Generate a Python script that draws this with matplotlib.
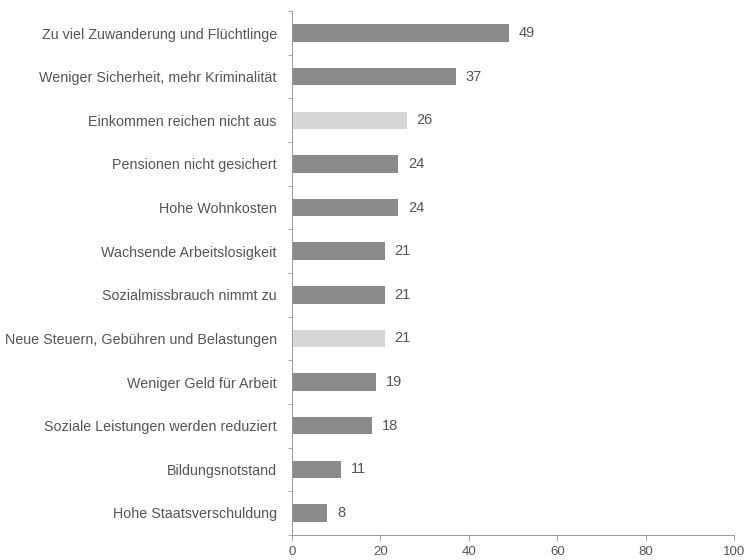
"""Horizontal bar chart: Sorgen der Bevölkerung (in Prozent)."""

import matplotlib
matplotlib.use("Agg")
import matplotlib.pyplot as plt
from matplotlib import font_manager
import numpy as np

# Categories top to bottom and their values.
categories = [
    "Zu viel Zuwanderung und Flüchtlinge",
    "Weniger Sicherheit, mehr Kriminalität",
    "Einkommen reichen nicht aus",
    "Pensionen nicht gesichert",
    "Hohe Wohnkosten",
    "Wachsende Arbeitslosigkeit",
    "Sozialmissbrauch nimmt zu",
    "Neue Steuern, Gebühren und Belastungen",
    "Weniger Geld für Arbeit",
    "Soziale Leistungen werden reduziert",
    "Bildungsnotstand",
    "Hohe Staatsverschuldung",
]
values = [49, 37, 26, 24, 24, 21, 21, 21, 19, 18, 11, 8]
# Two bars came out lighter in the printed source.
light_bars = ["Einkommen reichen nicht aus",
              "Neue Steuern, Gebühren und Belastungen"]
x_ticks = [0, 20, 40, 60, 80, 100]

names = {f.name for f in font_manager.fontManager.ttflist}
family = "Liberation Sans Narrow" if "Liberation Sans Narrow" in names \
    else "Liberation Sans"
plt.rcParams["font.family"] = [family, "DejaVu Sans"]

TEXT = "#555555"
AXIS = "#999999"

fig = plt.figure(figsize=(7.49, 5.60), dpi=100)
ax = fig.add_axes([0.390, 0.045, 0.590, 0.935])

y = np.arange(len(categories))
colors = ["#d6d6d6" if c in light_bars else "#8a8a8a" for c in categories]
ax.barh(y, values, height=0.4, color=colors)

for yi, v in zip(y, values):
    ax.text(v + 2.2, yi, str(v), va="center", ha="left",
            fontsize=10.5, color=TEXT)

ax.set_xlim(0, 100)
ax.set_ylim(len(categories) - 0.5, -0.5)
ax.set_xticks(x_ticks)
ax.set_xticklabels([str(t) for t in x_ticks], fontsize=9.5, color=TEXT)
ax.set_yticks(y)
ax.set_yticklabels(categories, fontsize=10.3, color=TEXT)
ax.tick_params(axis="y", length=0, pad=11)
ax.set_yticks(np.arange(-0.5, len(categories), 1.0), minor=True)
ax.tick_params(axis="y", which="minor", length=3, color=AXIS, width=0.6)
ax.tick_params(axis="x", length=4, color=AXIS, width=0.6, pad=4)

for side in ("top", "right"):
    ax.spines[side].set_visible(False)
for side in ("left", "bottom"):
    ax.spines[side].set_color(AXIS)
    ax.spines[side].set_linewidth(0.7)

fig.savefig("out.png", dpi=100, facecolor="white")
